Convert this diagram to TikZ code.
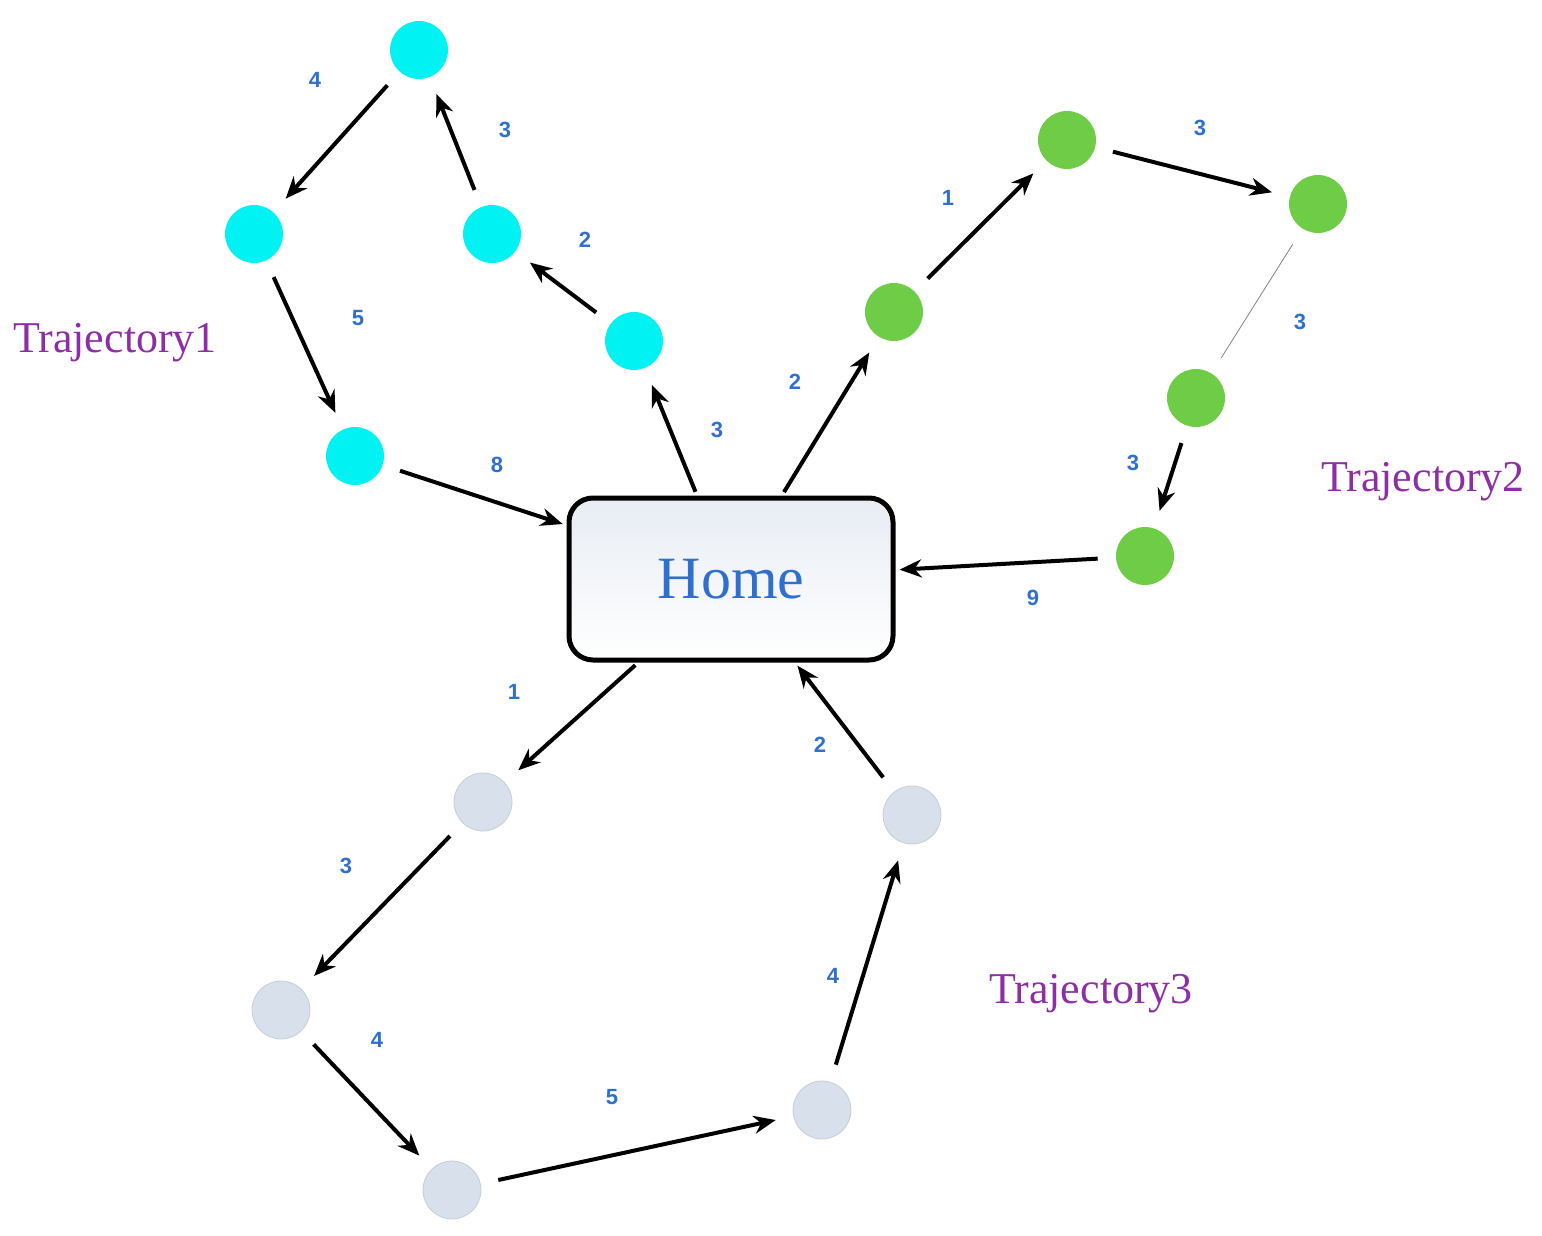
\documentclass[tikz,border=0pt]{standalone}
\usepackage{fontspec}
\setmainfont{Liberation Serif}
\newfontfamily\lblfont{Liberation Sans}
\usetikzlibrary{arrows.meta}
\definecolor{cy}{HTML}{00F2F2}
\definecolor{gr}{HTML}{6ECC46}
\definecolor{gy}{HTML}{D8E0EC}
\definecolor{lb}{HTML}{2F6FD0}
\definecolor{pu}{HTML}{8E2EA6}
\begin{document}
\begin{tikzpicture}[x=0.5pt,y=-0.5pt,
 pt/.style={circle,minimum size=29pt,inner sep=0pt},
 cyn/.style={pt,fill=cy},
 grn/.style={pt,fill=gr},
 gry/.style={pt,fill=gy,draw=gy!80!gray,line width=0.4pt},
 ar/.style={-{Stealth[length=11pt,width=9pt]},line width=2pt,shorten >=9pt,shorten <=9pt},
 lab/.style={font=\lblfont\bfseries\fontsize{11}{13}\selectfont,text=lb},
 traj/.style={font=\fontsize{22}{26}\selectfont,text=pu}]
\useasboundingbox (0,0) rectangle (1542,1236);
\node[draw,line width=2.5pt,rounded corners=12pt,minimum width=162pt,minimum height=81pt,
  top color=gy!60,bottom color=white,font=\fontsize{30}{34}\selectfont,text=lb] (home) at (731,579) {Home};
\node[cyn] (c1) at (419,50) {};
\node[cyn] (c2) at (254,234) {};
\node[cyn] (c3) at (492,234) {};
\node[cyn] (c4) at (634,341) {};
\node[cyn] (c5) at (355,456) {};
\node[grn] (g1) at (1067,140) {};
\node[grn] (g2) at (1318,204) {};
\node[grn] (g3) at (894,312) {};
\node[grn] (g4) at (1196,398) {};
\node[grn] (g5) at (1145,556) {};
\node[gry] (b1) at (483,802) {};
\node[gry] (b2) at (912,815) {};
\node[gry] (b3) at (281,1010) {};
\node[gry] (b4) at (822,1110) {};
\node[gry] (b5) at (452,1190) {};
\draw[ar,shorten <=2pt] (home) -- (c4);
\draw[ar] (c4) -- (c3);
\draw[ar] (c3) -- (c1);
\draw[ar] (c1) -- (c2);
\draw[ar] (c2) -- (c5);
\draw[ar,shorten >=2pt] (c5) -- (home);
\draw[ar,shorten <=2pt] (home) -- (g3);
\draw[ar] (g3) -- (g1);
\draw[ar] (g1) -- (g2);
\draw[line width=0.4pt,gray,shorten >=9pt,shorten <=9pt] (g2) -- (g4);
\draw[ar] (g4) -- (g5);
\draw[ar,shorten >=2pt] (g5) -- (home);
\draw[ar,shorten <=2pt] (home) -- (b1);
\draw[ar] (b1) -- (b3);
\draw[ar] (b3) -- (b5);
\draw[ar] (b5) -- (b4);
\draw[ar] (b4) -- (b2);
\draw[ar,shorten >=2pt] (b2) -- (home);
\node[lab] (l1) at (717,430) {3};
\node[lab] (l2) at (585,240) {2};
\node[lab] (l3) at (505,130) {3};
\node[lab] (l4) at (315,80) {4};
\node[lab] (l5) at (358,318) {5};
\node[lab] (l6) at (497,465) {8};
\node[lab] (l7) at (795,382) {2};
\node[lab] (l8) at (948,198) {1};
\node[lab] (l9) at (1200,128) {3};
\node[lab] (l10) at (1300,322) {3};
\node[lab] (l11) at (1133,463) {3};
\node[lab] (l12) at (1033,598) {9};
\node[lab] (l13) at (514,692) {1};
\node[lab] (l14) at (346,866) {3};
\node[lab] (l15) at (377,1040) {4};
\node[lab] (l16) at (612,1097) {5};
\node[lab] (l17) at (833,976) {4};
\node[lab] (l18) at (820,745) {2};
\node[traj] (t1) at (115,343) {Trajectory1};
\node[traj] (t2) at (1423,482) {Trajectory2};
\node[traj] (t3) at (1091,994) {Trajectory3};
\end{tikzpicture}
\end{document}
